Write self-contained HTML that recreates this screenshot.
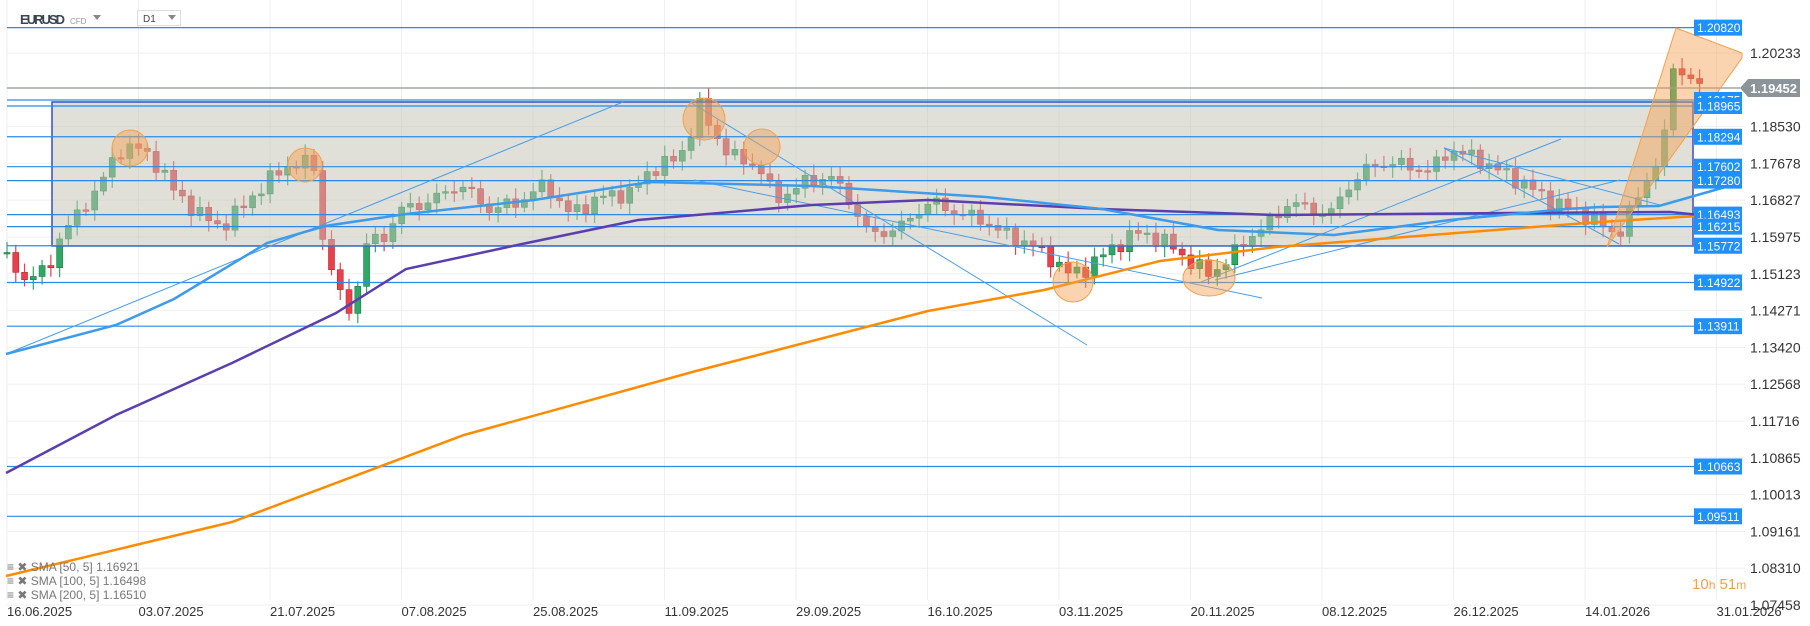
<!DOCTYPE html>
<html><head><meta charset="utf-8">
<style>
html,body{margin:0;padding:0;background:#fff;}
body{width:1810px;height:626px;overflow:hidden;font-family:"Liberation Sans",sans-serif;}
svg{display:block}
</style></head><body>
<svg id="c" width="1810" height="626" xmlns="http://www.w3.org/2000/svg" font-family="Liberation Sans, sans-serif">
<g id="grid" stroke="#efefef" stroke-width="1"></g>
<g id="candles"></g>
<rect x="52" y="102" width="1641" height="144" fill="rgba(196,194,180,0.52)" stroke="#3a4fc0" stroke-width="1.5"/>
<g id="hl"></g>
<g id="tl" stroke="#4a9ee8" stroke-width="1" fill="none">
<line x1="6" y1="354" x2="623" y2="102"/>
<line x1="690" y1="102" x2="1087" y2="345"/>
<line x1="694" y1="180" x2="1262" y2="298"/>
<line x1="1201" y1="282" x2="1561" y2="139"/>
<line x1="1215" y1="280" x2="1620" y2="180"/>
<line x1="1444" y1="148" x2="1619" y2="244"/>
<line x1="1444" y1="148" x2="1660" y2="205"/>
</g>
<polyline fill="none" stroke="#ff8c00" stroke-width="2.5" points="6,576 232,522 464,435 696,371 928,311 1044,290 1160,261 1276,247 1392,238 1508,229 1600,222 1729,214"/>
<polyline fill="none" stroke="#5b3fb0" stroke-width="2.5" points="6,473 116,415 232,363 336,313 406,269 522,244 638,220 812,205 928,200 1102,209 1276,215 1508,213 1670,212 1700,215"/>
<polyline fill="none" stroke="#3d9be9" stroke-width="2.5" points="6,354 116,325 174,299 267,243 325,226 406,214 534,200 650,182 812,186 986,197 1102,209 1218,230 1334,235 1450,220 1566,209 1600,207 1659,206 1729,186"/>
<g fill="rgba(245,160,80,0.45)" stroke="#f5a04a" stroke-width="1">
<circle cx="130" cy="148" r="18"/>
<circle cx="305" cy="165" r="17"/>
<circle cx="704" cy="119" r="21"/>
<circle cx="762" cy="147" r="18"/>
<circle cx="1073" cy="282" r="20"/>
<ellipse cx="1209" cy="278" rx="26" ry="18"/>
<polygon points="1607,247 1676,28 1742,53 1742,58"/>
</g>
<g id="labels" font-size="12"></g>
<g id="axis" font-size="14" fill="#333"></g>
<g id="dates" font-size="13" fill="#333"></g>
<text x="20" y="24" font-size="13" font-weight="bold" fill="#3a4550" textLength="45">EURUSD</text>
<text x="70" y="24" font-size="8" fill="#999">CFD</text>
<polygon points="93,15 101,15 97,20" fill="#888"/>
<rect x="137.5" y="10.5" width="43" height="15" fill="#fff" stroke="#ddd"/>
<text x="143" y="22" font-size="10" fill="#444">D1</text>
<polygon points="168,15 176,15 172,20" fill="#888"/>
<g font-size="12" fill="#777">
<text x="7" y="571">≡ ✖ SMA [50, 5] 1.16921</text>
<text x="7" y="585">≡ ✖ SMA [100, 5] 1.16498</text>
<text x="7" y="599">≡ ✖ SMA [200, 5] 1.16510</text>
</g>
<text x="1692" y="589" font-size="15" fill="#f5a04a">10<tspan font-size="12">h</tspan> 51<tspan font-size="12">m</tspan></text>
</svg>
<script>
var NS="http://www.w3.org/2000/svg";
function Y(p){return 53+(1.20233-p)*4321;}
function el(t,a,parent,txt){var e=document.createElementNS(NS,t);for(var k in a)e.setAttribute(k,a[k]);if(txt)e.textContent=txt;document.getElementById(parent).appendChild(e);return e;}
var ticks=["1.20233","1.18530","1.17678","1.16827","1.15975","1.15123","1.14271","1.13420","1.12568","1.11716","1.10865","1.10013","1.09161","1.08310","1.07458"];
ticks.forEach(function(t){var y=Y(+t);el("line",{x1:7,y1:y,x2:1745,y2:y},"grid");el("text",{x:1750,y:y+5},"axis",t);});
var dates=["16.06.2025","03.07.2025","21.07.2025","07.08.2025","25.08.2025","11.09.2025","29.09.2025","16.10.2025","03.11.2025","20.11.2025","08.12.2025","26.12.2025","14.01.2026","31.01.2026"];
dates.forEach(function(d,i){var x=7+131.5*i;el("line",{x1:x,y1:0,x2:x,y2:600},"grid");el("text",{x:x,y:616},"dates",d);});
var kp=[[7,1.155],[15,1.152],[30,1.150],[50,1.153],[60,1.160],[75,1.164],[100,1.172],[115,1.178],[125,1.181],[140,1.180],[160,1.176],[175,1.170],[200,1.165],[220,1.162],[240,1.166],[260,1.171],[285,1.176],[300,1.177],[315,1.176],[322,1.160],[335,1.150],[345,1.142],[355,1.145],[365,1.158],[385,1.160],[400,1.166],[430,1.168],[460,1.172],[490,1.166],[520,1.168],[545,1.172],[570,1.165],[600,1.169],[630,1.170],[655,1.176],[680,1.178],[700,1.190],[715,1.183],[735,1.178],[760,1.176],[775,1.168],[800,1.172],[830,1.174],[850,1.168],[870,1.160],[900,1.162],[930,1.168],[960,1.165],[980,1.164],[1000,1.161],[1030,1.158],[1050,1.155],[1070,1.151],[1090,1.153],[1110,1.157],[1140,1.161],[1170,1.158],[1190,1.154],[1210,1.151],[1230,1.155],[1250,1.160],[1270,1.163],[1290,1.168],[1310,1.166],[1330,1.165],[1350,1.172],[1370,1.176],[1390,1.177],[1410,1.176],[1430,1.175],[1450,1.180],[1475,1.178],[1500,1.175],[1525,1.172],[1550,1.168],[1575,1.166],[1600,1.163],[1615,1.160],[1625,1.163],[1640,1.170],[1650,1.174],[1660,1.180],[1667,1.187],[1676,1.2037],[1684,1.1952],[1693,1.1968],[1703,1.1945]];
function P(x){for(var i=1;i<kp.length;i++){if(x<=kp[i][0]){var a=kp[i-1],b=kp[i];return a[1]+(b[1]-a[1])*(x-a[0])/(b[0]-a[0]);}}return kp[kp.length-1][1];}
var prev=1.156,n=0;
for(var x=7;x<=1704;x+=8.77){n++;var c=P(x)+0.0022*Math.sin(n*2.37)*Math.cos(n*0.71);if(x>1660)c=P(x);var o=prev;
var hi=Math.max(o,c)+0.001+0.0015*Math.abs(Math.sin(n*1.3));var lo=Math.min(o,c)-0.001-0.0015*Math.abs(Math.cos(n*1.7));
var up=c>=o;var col=up?"#2fa865":"#e8414b";
el("line",{x1:x,y1:Y(hi),x2:x,y2:Y(lo),stroke:col,"stroke-width":1.2},"candles");
var t=Y(Math.max(o,c)),h=Math.max(1.5,Math.abs(Y(o)-Y(c)));
el("rect",{x:x-3,y:t,width:6,height:h,fill:col,stroke:up?"#1d7a45":"#b02a33","stroke-width":0.6},"candles");prev=c;}
var lv=["1.20820","1.19175","1.18965","1.18294","1.17602","1.17280","1.16493","1.16215","1.15772","1.14922","1.13911","1.10663","1.09511"];
lv.forEach(function(l){var y=Y(+l);if(l=="1.19175")y=100;if(l=="1.18965")y=106;
el("line",{x1:7,y1:y,x2:1694,y2:y,stroke:"#2a8be6","stroke-width":1.2},"hl");
el("rect",{x:1694,y:y-8,width:48,height:16,fill:"#1e90ff"},"labels");
el("text",{x:1697,y:y+4.5,fill:"#fff"},"labels",l);});
el("line",{x1:7,y1:88,x2:1740,y2:88,stroke:"#8a9499","stroke-width":1.2},"hl");
el("polygon",{points:"1740,88 1748,79 1800,79 1800,97 1748,97",fill:"#8a9499"},"labels");
el("text",{x:1750,y:93,fill:"#fff","font-size":13,"font-weight":"bold"},"labels","1.19452");
</script>
</body></html>
